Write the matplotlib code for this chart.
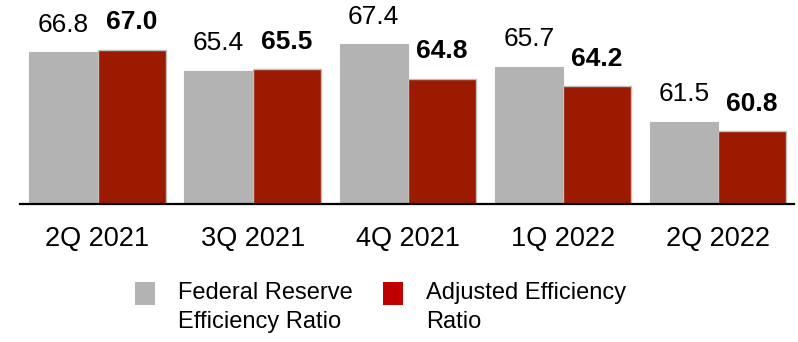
import numpy as np
import matplotlib.pyplot as plt
from matplotlib.patches import Rectangle

plt.rcParams['font.family'] = ['Liberation Sans', 'DejaVu Sans']

quarters = ['2Q 2021', '3Q 2021', '4Q 2021', '1Q 2022', '2Q 2022']
fed_ratio = [66.8, 65.4, 67.4, 65.7, 61.5]
adj_ratio = [67.0, 65.5, 64.8, 64.2, 60.8]

gray = '#B3B3B4'
red = '#9C1A00'

fig = plt.figure(figsize=(7.98, 3.42), dpi=100)
ax = fig.add_axes([0.025, 0.403, 0.97, 0.597])

x = np.arange(len(quarters))
w = 0.44
b1 = ax.bar(x - w / 2, fed_ratio, w, color=gray, edgecolor=gray, linewidth=0.8)
b2 = ax.bar(x + w / 2, adj_ratio, w, color=red, edgecolor='#BFBFBF', linewidth=1.0)

for rect, v in zip(b1, fed_ratio):
    ax.annotate(f'{v:.1f}', (rect.get_x() + rect.get_width() / 2, v),
                xytext=(0, 11), textcoords='offset points',
                ha='center', va='bottom', fontsize=19)
for rect, v in zip(b2, adj_ratio):
    ax.annotate(f'{v:.1f}', (rect.get_x() + rect.get_width() / 2, v),
                xytext=(0, 11), textcoords='offset points',
                ha='center', va='bottom', fontsize=19, fontweight='bold')

ax.set_ylim(55.2, 70.8)
ax.set_xlim(-0.5, 4.49)
ax.set_xticks(x)
ax.set_xticklabels(quarters, fontsize=19.5)
ax.tick_params(axis='x', length=0, pad=16)
ax.set_yticks([])
for s in ['top', 'left', 'right']:
    ax.spines[s].set_visible(False)
ax.spines['bottom'].set_linewidth(1.6)
ax.spines['bottom'].set_color('black')

# legend drawn by hand so the swatch sits beside the first text line
W, H = 798, 342
def px(xp, yp):
    return xp / W, 1 - yp / H

for sx, color, label in [(135, gray, 'Federal Reserve\nEfficiency Ratio'),
                         (383, '#C00000', 'Adjusted Efficiency\nRatio')]:
    x0, y0 = px(sx, 305)
    fig.patches.append(Rectangle((x0, y0), 20 / W, 23 / H, transform=fig.transFigure,
                                 facecolor=color, edgecolor='none'))
    tx, ty = px(sx + 43, 282)
    fig.text(tx, ty, label, fontsize=17, ha='left', va='top', linespacing=1.4)

fig.savefig('out.png', dpi=100)
